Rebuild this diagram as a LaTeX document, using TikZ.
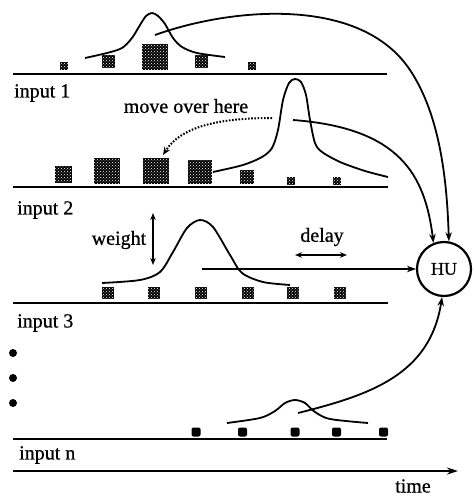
\documentclass[tikz,border=0pt]{standalone}
\usepackage{fontspec}
\setmainfont{Liberation Serif}
\newfontfamily\heavyserif[FakeBold=0.7]{Liberation Serif}
\usetikzlibrary{arrows.meta,patterns}
\begin{document}
\begin{tikzpicture}[x=1pt,y=-1pt,
  axisline/.style={line width=2.2pt},
  bump/.style={line width=1.8pt},
  conn/.style={line width=1.8pt,-{Stealth[length=9pt,width=6.5pt]}},
  twoway/.style={line width=1.5pt,{Stealth[length=7pt,width=5.5pt]}-{Stealth[length=7pt,width=5.5pt]}},
  sq/.style={rectangle,inner sep=0pt,minimum size=#1,fill=black,postaction={pattern=crosshatch dots,pattern color=white}},
  pt/.style={rectangle,rounded corners=2pt,inner sep=0pt,minimum size=9pt,fill=black},
  lbl/.style={inner sep=0pt,font=\heavyserif\fontsize{20}{24}\selectfont},
]
\useasboundingbox (0,0) rectangle (472,497);

% base lines
\draw[axisline] (13,74) -- (387,74);
\draw[axisline] (13,187) -- (388,187);
\draw[axisline] (13,303) -- (388,303);
\draw[axisline] (13,439) -- (387,439);
\draw[axisline,-{Stealth[length=11pt,width=7pt]}] (13,471) -- (458,471);

% labels
\node[lbl,anchor=west] (in1) at (14,93) {input 1};
\node[lbl,anchor=west] (in2) at (17,210) {input 2};
\node[lbl,anchor=west] (in3) at (17,323) {input 3};
\node[lbl,anchor=west] (inn) at (19,455) {input n};
\node[lbl] (time) at (413,486) {time};
\node[lbl] (mv) at (186,106) {move over here};
\node[lbl] (wt) at (119,240) {weight};
\node[lbl] (dl) at (322,237) {delay};

% row 1 squares
\node[sq=8pt] (a1) at (64,66) {};
\node[sq=13pt] (a2) at (108,62) {};
\node[sq=26pt] (a3) at (155,57) {};
\node[sq=13pt] (a4) at (201,62) {};
\node[sq=8pt] (a5) at (252,66) {};

% row 2 squares
\node[sq=17pt] (b1) at (63,174) {};
\node[sq=26pt] (b2) at (107,171) {};
\node[sq=26pt] (b3) at (156,171) {};
\node[sq=24pt] (b4) at (200,172) {};
\node[sq=14pt] (b5) at (247,177) {};
\node[sq=8pt] (b6) at (291,181) {};
\node[sq=8pt] (b7) at (337,181) {};

% row 3 squares
\foreach \x [count=\i] in {107.5,154,201,247.5,292.5,340}
  \node[sq=12pt] (c\i) at (\x,292.5) {};

% row n points
\foreach \x [count=\i] in {196,242.5,295,336.5,383.5}
  \node[pt] (d\i) at (\x,432) {};

% dots
\fill (13,353) circle[radius=4pt];
\fill (13,378) circle[radius=4pt];
\fill (13,403) circle[radius=4pt];

% bumps
\draw[bump] plot[smooth] coordinates {(85,58) (107,53) (122,48) (132,38) (140,25) (146,16) (152,13) (158,16) (165,24) (173,38) (182,47) (197,53) (225,57)};
\draw[bump] plot[smooth] coordinates {(213,172) (243,165) (262,157) (272,148) (278,130) (283,100) (289,83) (295,79) (301,82) (306,95) (310,120) (315,143) (322,152) (340,162) (365,171) (388,177)};
\draw[bump] plot[smooth] coordinates {(102,283) (140,280) (160,272) (173,252) (187,228) (200,220) (213,227) (230,255) (242,273) (263,282) (290,285)};
\draw[bump] plot[smooth] coordinates {(227,423) (260,418) (275,411) (285,403) (295,400) (305,403) (315,412) (330,419) (368,423)};

% hidden unit
\node[circle,draw,line width=2.2pt,minimum size=54pt,inner sep=0pt,font=\heavyserif\fontsize{18}{20}\selectfont] (HU) at (444,269) {HU};

% connector starts
\coordinate (g1) at (155,35);
\coordinate (g2) at (293,120);
\coordinate (g3) at (202,269);
\coordinate (g4) at (298,413);

\draw[conn] (g1) .. controls (230,8) and (360,-5) .. (410,70) .. controls (440,115) and (447,180) .. (HU.80);
\draw[conn] (g2) .. controls (400,128) and (425,175) .. (HU.112);
\draw[conn] (g3) -- (HU.west);
\draw[conn] (g4) .. controls (370,395) and (430,375) .. (HU.266);

% move arrow
\coordinate (m1) at (272,118);
\coordinate (m2) at (163,155);
\draw[line width=2pt,dash pattern=on 1.6pt off 1.6pt,-{Stealth[length=8pt,width=6.5pt]}] (m1) .. controls (215,118) and (180,128) .. (m2);

% weight and delay arrows
\coordinate (w1) at (153,213);
\coordinate (w2) at (153,265);
\draw[twoway] (w1) -- (w2);
\coordinate (e1) at (295,255);
\coordinate (e2) at (347,255);
\draw[twoway] (e1) -- (e2);
\end{tikzpicture}
\end{document}
